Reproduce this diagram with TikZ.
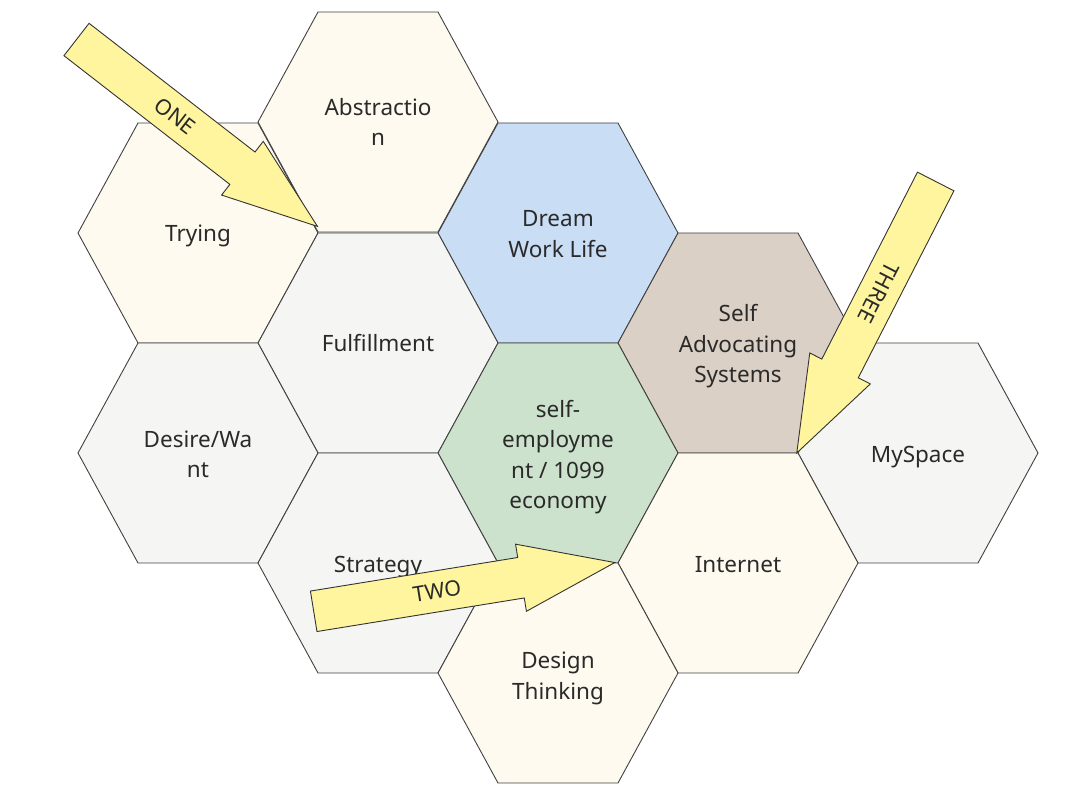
\documentclass[tikz,border=0pt]{standalone}
\usepackage{fontspec}
\setmainfont{Noto Sans}
\usetikzlibrary{calc}

\definecolor{cellcream}{HTML}{FEFAEF}
\definecolor{cellgray}{HTML}{F5F5F3}
\definecolor{cellblue}{HTML}{C9DDF5}
\definecolor{cellgreen}{HTML}{CCE2CC}
\definecolor{celltaupe}{HTML}{DAD0C5}
\definecolor{arrowyellow}{HTML}{FEF59E}
\definecolor{inkgray}{HTML}{2A2A2A}

\tikzset{
    cell/.style={draw=black!75, line width=0.9pt, line join=miter},
    celltext/.style={align=center, text=inkgray, font=\fontsize{22.5}{30.5}\selectfont},
    blockarrow/.style={draw=black!80, fill=arrowyellow, line width=0.9pt, line join=miter},
    arrowtext/.style={text=inkgray, font=\fontsize{21.5}{25}\selectfont}
}

\begin{document}
\begin{tikzpicture}[x=1pt,y=1pt]
    % Half width, half height and half top edge of a cell
    \def\hw{120}
    \def\hh{110}
    \def\he{60}
    \useasboundingbox (0,0) rectangle (1080,804);

    % Draw the honeycomb cells (last field: small text drop)
    \foreach \name/\x/\y/\col/\txt/\dy in {
        abstr/378/682/cellcream/{Abstractio\\n}/2.5,
        trying/198/571/cellcream/Trying/2.5,
        dream/558/571/cellblue/{Dream\\Work Life}/3,
        fulfil/378/461/cellgray/Fulfillment/2.5,
        selfadv/738/461/celltaupe/{Self\\Advocating\\Systems}/3,
        desire/198/351/cellgray/{Desire/Wa\\nt}/3.5,
        selfemp/558/351/cellgreen/{self-\\employme\\nt / 1099\\economy}/4,
        myspace/918/351/cellgray/MySpace/3.5,
        strategy/378/241/cellgray/Strategy/3,
        internet/738/241/cellcream/Internet/3,
        design/558/131/cellcream/{Design\\Thinking}/5}
    {
        \filldraw[cell, fill=\col] (\x-\hw,\y) -- (\x-\he,\y+\hh) -- (\x+\he,\y+\hh)
            -- (\x+\hw,\y) -- (\x+\he,\y-\hh) -- (\x-\he,\y-\hh) -- cycle;
        \node[celltext] (\name) at (\x,\y-\dy) {\strut\txt\strut};
    }

    % Yellow block arrows: tail middle, direction, label
    \foreach \name/\tx/\ty/\ang/\txt in {
        one/76.5/764.5/-37.8/ONE,
        two/313.7/192.7/9.2/TWO,
        three/935.7/622.5/242.9/THREE}
    {
        \begin{scope}[shift={(\tx,\ty)}, rotate=\ang]
            \filldraw[blockarrow] (0,20.5) -- (210,20.5) -- (210,34) -- (305,0)
                -- (210,-34) -- (210,-20.5) -- (0,-20.5) -- cycle;
            \node[arrowtext, rotate=\ang] (\name) at (125,0) {\txt};
        \end{scope}
    }
\end{tikzpicture}
\end{document}
